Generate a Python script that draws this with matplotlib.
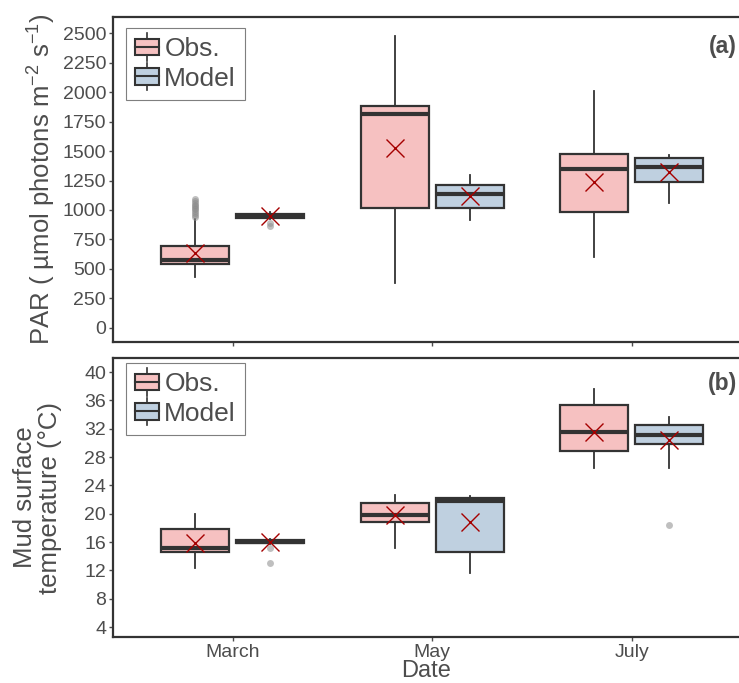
import matplotlib
matplotlib.use("Agg")
import matplotlib.pyplot as plt
from matplotlib.legend_handler import HandlerBase
from matplotlib.patches import Rectangle
from matplotlib.lines import Line2D

plt.rcParams['font.family'] = ['Liberation Sans', 'DejaVu Sans']
plt.rcParams['mathtext.fontset'] = 'custom'
plt.rcParams['mathtext.rm'] = 'Liberation Sans'
plt.rcParams['mathtext.it'] = 'Liberation Sans:italic'

# ---- data ----
months = ["March", "May", "July"]
groups = ["Obs.", "Model"]

# PAR (umol photons m-2 s-1): whisker low, Q1, median, Q3, whisker high, mean
par_obs_whislo = [435, 379, 599]
par_obs_q1 = [542, 1020, 981]
par_obs_med = [576, 1811, 1345]
par_obs_q3 = [695, 1881, 1475]
par_obs_whishi = [925, 2475, 2011]
par_obs_mean = [635, 1523, 1234]
par_obs_fliers = [[940, 960, 975, 990, 1005, 1015, 1030, 1045, 1060, 1075, 1090], [], []]

par_mod_whislo = [925, 915, 1057]
par_mod_q1 = [935, 1020, 1234]
par_mod_med = [952, 1133, 1362]
par_mod_q3 = [970, 1212, 1438]
par_mod_whishi = [985, 1297, 1466]
par_mod_mean = [949, 1119, 1325]
par_mod_fliers = [[892, 864], [], []]

# Mud surface temperature (degC)
tmp_obs_whislo = [12.3, 15.1, 26.5]
tmp_obs_q1 = [14.6, 18.8, 28.9]
tmp_obs_med = [15.1, 19.8, 31.5]
tmp_obs_q3 = [17.9, 21.5, 35.4]
tmp_obs_whishi = [20.0, 22.7, 37.6]
tmp_obs_mean = [15.9, 19.8, 31.6]
tmp_obs_fliers = [[], [], []]

tmp_mod_whislo = [15.7, 11.7, 26.4]
tmp_mod_q1 = [15.9, 14.6, 29.8]
tmp_mod_med = [16.05, 21.8, 31.1]
tmp_mod_q3 = [16.25, 22.2, 32.6]
tmp_mod_whishi = [16.4, 22.5, 33.6]
tmp_mod_mean = [16.0, 18.9, 30.4]
tmp_mod_fliers = [[15.1, 13.0], [], [18.4]]

OBS_FILL = "#F6C1C1"
MOD_FILL = "#BFD0E0"
EDGE = "#333333"
TXT = "#4D4D4D"
MEAN_C = "#A50000"


def make_stats(lo, q1, med, q3, hi, mean, fl):
    return [dict(whislo=a, q1=b, med=c, q3=d, whishi=e, mean=f, fliers=g)
            for a, b, c, d, e, f, g in zip(lo, q1, med, q3, hi, mean, fl)]


def draw_group(ax, stats, offset, fill):
    pos = [i + 1 + offset for i in range(len(stats))]
    bp = ax.bxp(stats, positions=pos, widths=0.34, patch_artist=True,
                showmeans=True, showcaps=False, manage_ticks=False,
                boxprops=dict(facecolor=fill, edgecolor=EDGE, linewidth=1.6),
                medianprops=dict(color=EDGE, linewidth=3.0, solid_capstyle='butt'),
                whiskerprops=dict(color=EDGE, linewidth=1.3),
                flierprops=dict(marker='o', markerfacecolor='#8C8C8C',
                                markeredgecolor='none', markersize=5, alpha=0.55),
                meanprops=dict(marker='x', markeredgecolor=MEAN_C,
                               markersize=13, markeredgewidth=1.0))
    for w in bp['whiskers']:
        w.set_zorder(1)
    for b in bp['boxes']:
        b.set_zorder(2)
    for m in bp['medians']:
        m.set_zorder(3)
    for m in bp['means']:
        m.set_zorder(4)
    return bp


class BoxKeyHandler(HandlerBase):
    """Legend key drawn as a tiny boxplot glyph."""

    def __init__(self, fill):
        super().__init__()
        self.fill = fill

    def create_artists(self, legend, orig_handle, xdescent, ydescent,
                       width, height, fontsize, trans):
        cx = width / 2 - xdescent
        bw = width
        bh = height * 0.95
        y0 = height / 2 - bh / 2 - ydescent
        rect = Rectangle((cx - bw / 2, y0), bw, bh, facecolor=self.fill,
                         edgecolor=EDGE, linewidth=1.5, transform=trans)
        med = Line2D([cx - bw / 2, cx + bw / 2], [y0 + bh / 2] * 2,
                     color=EDGE, linewidth=1.5, transform=trans)
        wt = Line2D([cx, cx], [y0 + bh, y0 + bh + height * 0.3],
                    color=EDGE, linewidth=1.2, transform=trans)
        wb = Line2D([cx, cx], [y0, y0 - height * 0.3],
                    color=EDGE, linewidth=1.2, transform=trans)
        return [wt, wb, rect, med]


W, H = 739, 683
fig = plt.figure(figsize=(W / 100, H / 100), dpi=100)

left_px, right_px = 113, 739
ax1 = fig.add_axes([left_px / W, 1 - 342 / H, (right_px - left_px) / W, (342 - 17) / H])
ax2 = fig.add_axes([left_px / W, 1 - 637 / H, (right_px - left_px) / W, (637 - 358) / H])

xmax = 0.4 + (right_px - left_px) / 199.5

panels = [
    (ax1,
     make_stats(par_obs_whislo, par_obs_q1, par_obs_med, par_obs_q3, par_obs_whishi, par_obs_mean, par_obs_fliers),
     make_stats(par_mod_whislo, par_mod_q1, par_mod_med, par_mod_q3, par_mod_whishi, par_mod_mean, par_mod_fliers),
     (-119, 2636), list(range(0, 2501, 250)), "(a)", 0.908, 0.966),
    (ax2,
     make_stats(tmp_obs_whislo, tmp_obs_q1, tmp_obs_med, tmp_obs_q3, tmp_obs_whishi, tmp_obs_mean, tmp_obs_fliers),
     make_stats(tmp_mod_whislo, tmp_mod_q1, tmp_mod_med, tmp_mod_q3, tmp_mod_whishi, tmp_mod_mean, tmp_mod_fliers),
     (2.59, 42.0), list(range(4, 41, 4)), "(b)", 0.91, 0.982),
]

for ax, s_obs, s_mod, ylim, yticks, tag, tag_y, leg_y in panels:
    draw_group(ax, s_obs, -0.188, OBS_FILL)
    draw_group(ax, s_mod, 0.188, MOD_FILL)
    ax.set_xlim(0.4, xmax)
    ax.set_ylim(*ylim)
    ax.set_yticks(yticks)
    ax.set_xticks([1, 2, 3])
    for side in ['left', 'top', 'bottom']:
        ax.spines[side].set_color(EDGE)
        ax.spines[side].set_linewidth(1.6)
    ax.spines['right'].set_visible(False)
    ax.tick_params(axis='both', colors=TXT, labelcolor=TXT, labelsize=14,
                   length=3, width=1, direction='out', pad=2)
    ax.text(0.997, tag_y, tag, transform=ax.transAxes, ha='right', va='center',
            fontsize=16.5, fontweight='bold', color=TXT)
    h_obs = Rectangle((0, 0), 1, 1)
    h_mod = Rectangle((0, 0), 1, 1)
    leg = ax.legend([h_obs, h_mod], groups,
                    handler_map={h_obs: BoxKeyHandler(OBS_FILL), h_mod: BoxKeyHandler(MOD_FILL)},
                    loc='upper left', bbox_to_anchor=(13 / 626, leg_y), borderaxespad=0,
                    fontsize=19, frameon=True, fancybox=False, edgecolor='#7F7F7F',
                    framealpha=1, handlelength=0.9, handleheight=0.65,
                    handletextpad=0.2, labelspacing=0.2, borderpad=0.35,
                    labelcolor=TXT)
    leg.get_frame().set_linewidth(0.8)

ax1.set_xticklabels([])
ax2.set_xticklabels(months)
ax1.set_ylabel("PAR ( µmol photons m$^{-2}$ s$^{-1}$)", fontsize=18.5, color=TXT, labelpad=3)
ax2.set_ylabel("Mud surface\ntemperature (°C)", fontsize=18.5, color=TXT, labelpad=16,
               linespacing=1.05)
ax2.set_xlabel("Date", fontsize=17, color=TXT, labelpad=-1)

fig.savefig("out.png", dpi=100)
